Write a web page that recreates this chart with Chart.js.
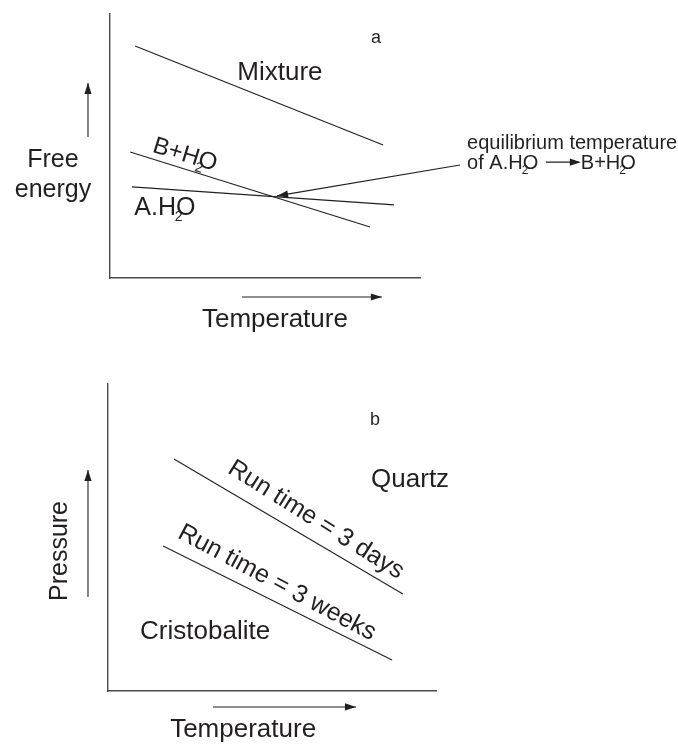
<!DOCTYPE html>
<html>
<head>
<meta charset="utf-8">
<script src="https://cdn.jsdelivr.net/npm/chart.js@4.4.1/dist/chart.umd.min.js"></script>
<style>
  html, body { margin: 0; padding: 0; background: #fff; }
  #wrap { position: relative; width: 678px; height: 745px; }
  canvas { position: absolute; left: 0; }
  #chartA { top: 0; }
  #chartB { top: 372px; }
</style>
</head>
<body>
<div id="wrap">
  <canvas id="chartA" width="678" height="372"></canvas>
  <canvas id="chartB" width="678" height="373"></canvas>
</div>
<script>
// Schematic curves, in arbitrary units (0-100 on both axes)
// Panel a: free energy vs temperature
const mixture = [[8.1, 87.9], [88.1, 50.4]];
const bPlusWater = [[6.5, 47.7], [83.9, 19.3]];
const aHydrate = [[7.1, 34.5], [91.6, 27.7]];
const equilibriumPointer = [[112.9, 42.8], [53.9, 31.1]];
const freeEnergyArrow = [[-7.1, 53.4], [-7.1, 73.9]];
const temperatureArrowA = [[42.6, -7.2], [87.7, -7.2]];

// Panel b: pressure vs temperature
const runThreeDays = [[20.1, 75.6], [89.9, 31.6]];
const runThreeWeeks = [[16.8, 47.2], [86.6, 10.1]];
const pressureArrow = [[-6.1, 30.6], [-6.1, 72.0]];
const temperatureArrowB = [[32.0, -5.2], [75.6, -5.2]];

const INK = '#231f20';
const FONT = '"Liberation Sans", Arial, sans-serif';

const toXY = pts => pts.map(p => ({ x: p[0], y: p[1] }));

function line(pts, arrow) {
  return {
    data: toXY(pts),
    showLine: true,
    borderColor: INK,
    borderWidth: 1.1,
    pointRadius: 0,
    clip: false,
    arrow: !!arrow
  };
}

// arrowheads on the last point of flagged datasets
const arrowHeads = {
  id: 'arrowHeads',
  afterDatasetsDraw(chart) {
    const ctx = chart.ctx;
    chart.data.datasets.forEach((ds, i) => {
      if (!ds.arrow) return;
      const pts = chart.getDatasetMeta(i).data;
      const a = pts[pts.length - 2], b = pts[pts.length - 1];
      const ang = Math.atan2(b.y - a.y, b.x - a.x);
      ctx.save();
      ctx.translate(b.x, b.y);
      ctx.rotate(ang);
      ctx.beginPath();
      ctx.moveTo(0, 0);
      ctx.lineTo(-11, -3.6);
      ctx.lineTo(-11, 3.6);
      ctx.closePath();
      ctx.fillStyle = INK;
      ctx.fill();
      ctx.restore();
    });
  }
};

// split "A.H_2O >B" into runs: normal text, subscript (no advance), arrow
function tokens(text) {
  const out = [];
  let buf = '';
  for (let i = 0; i < text.length; i++) {
    if (text[i] === '_') {
      if (buf) out.push({ t: 'txt', s: buf });
      buf = '';
      out.push({ t: 'sub', s: text[i + 1] });
      i++;
    } else if (text[i] === '>') {
      if (buf) out.push({ t: 'txt', s: buf });
      buf = '';
      out.push({ t: 'arrow' });
    } else {
      buf += text[i];
    }
  }
  if (buf) out.push({ t: 'txt', s: buf });
  return out;
}

function drawRich(ctx, text, size, align) {
  const toks = tokens(text);
  ctx.font = size + 'px ' + FONT;
  const arrowW = size * 1.85;
  let w = 0;
  toks.forEach(k => {
    if (k.t === 'txt') w += ctx.measureText(k.s).width;
    else if (k.t === 'arrow') w += arrowW;
  });
  let x = align === 'left' ? 0 : -w / 2;
  ctx.textBaseline = 'middle';
  ctx.textAlign = 'left';
  toks.forEach(k => {
    if (k.t === 'txt') {
      ctx.font = size + 'px ' + FONT;
      ctx.fillText(k.s, x, 0);
      x += ctx.measureText(k.s).width;
    } else if (k.t === 'sub') {
      ctx.font = Math.round(size * 0.58) + 'px ' + FONT;
      ctx.fillText(k.s, x - size * 0.05, size * 0.36);
    } else {
      ctx.strokeStyle = INK;
      ctx.lineWidth = 1.1;
      ctx.beginPath();
      ctx.moveTo(x + 2, -1);
      ctx.lineTo(x + arrowW - 2, -1);
      ctx.stroke();
      ctx.beginPath();
      ctx.moveTo(x + arrowW, -1);
      ctx.lineTo(x + arrowW - 11, -4.6);
      ctx.lineTo(x + arrowW - 11, 2.6);
      ctx.closePath();
      ctx.fill();
      x += arrowW;
    }
  });
}

function textMarks(items) {
  return {
    id: 'textMarks',
    afterDraw(chart) {
      const ctx = chart.ctx;
      const sx = chart.scales.x, sy = chart.scales.y;
      items.forEach(it => {
        ctx.save();
        ctx.fillStyle = INK;
        ctx.translate(sx.getPixelForValue(it.x), sy.getPixelForValue(it.y));
        if (it.rot) ctx.rotate(it.rot * Math.PI / 180);
        drawRich(ctx, it.text, it.size, it.align);
        ctx.restore();
      });
    }
  };
}

function makePanel(id, datasets, items, padding) {
  const axis = {
    type: 'linear',
    min: 0,
    max: 100,
    grid: { display: false, drawTicks: false },
    ticks: { display: false },
    border: { display: true, color: '#4a4a4a', width: 1.4 }
  };
  return new Chart(document.getElementById(id), {
    type: 'scatter',
    data: { datasets: datasets },
    options: {
      responsive: false,
      animation: false,
      devicePixelRatio: 1,
      layout: { padding: padding },
      scales: { x: axis, y: axis },
      plugins: { legend: { display: false }, tooltip: { enabled: false } }
    },
    plugins: [arrowHeads, textMarks(items)]
  });
}

makePanel('chartA', [
  line(mixture),
  line(bPlusWater),
  line(aHydrate),
  line(equilibriumPointer, true),
  line(freeEnergyArrow, true),
  line(temperatureArrowA, true)
], [
  { text: 'a', x: 85.8, y: 90.9, size: 18 },
  { text: 'Mixture', x: 54.8, y: 77.7, size: 26 },
  { text: 'B+H_2O', x: 24.2, y: 46.6, size: 24, rot: 17 },
  { text: 'A.H_2O', x: 17.7, y: 26.5, size: 25 },
  { text: 'Free', x: -18.4, y: 44.7, size: 25 },
  { text: 'energy', x: -18.4, y: 33.3, size: 25 },
  { text: 'Temperature', x: 53.2, y: -15.9, size: 26 },
  { text: 'equilibrium temperature', x: 115.2, y: 51.0, size: 20, align: 'left' },
  { text: 'of A.H_2O >B+H_2O', x: 115.2, y: 43.5, size: 20, align: 'left' }
], { left: 110, top: 14, right: 258, bottom: 94 });

makePanel('chartB', [
  line(runThreeDays),
  line(runThreeWeeks),
  line(pressureArrow, true),
  line(temperatureArrowB, true)
], [
  { text: 'b', x: 81.4, y: 88.3, size: 18 },
  { text: 'Quartz', x: 92.1, y: 68.7, size: 26 },
  { text: 'Cristobalite', x: 29.6, y: 19.2, size: 26 },
  { text: 'Run time = 3 days', x: 63.4, y: 55.7, size: 25, rot: 32 },
  { text: 'Run time = 3 weeks', x: 51.5, y: 35.2, size: 25, rot: 28 },
  { text: 'Temperature', x: 41.2, y: -12.7, size: 26 },
  { text: 'Pressure', x: -14.6, y: 45.6, size: 25, rot: -90 }
], { left: 108, top: 12, right: 242, bottom: 54 });
</script>
</body>
</html>
